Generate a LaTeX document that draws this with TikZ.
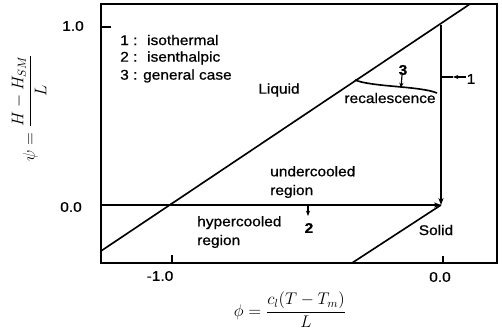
\documentclass[tikz,border=0pt]{standalone}
\usepackage{fontspec}
\setmainfont[FakeStretch=1.1,FakeBold=0.8]{Liberation Sans}
\usetikzlibrary{arrows.meta}
\begin{document}
\begin{tikzpicture}[x=0.03cm,y=-0.03cm,
  lbl/.style={font=\fontsize{12}{14}\selectfont, inner sep=0pt},
  mlbl/.style={font=\fontsize{14}{16}\selectfont, inner sep=0pt},
  frame/.style={line width=1.1pt},
  curve/.style={line width=1.4pt},
  tip/.style={-{Stealth[length=6pt,width=4.5pt]}},
  smalltip/.style={-{Stealth[length=4.5pt,width=3.5pt]}},
  ]
\useasboundingbox (0,0) rectangle (502,335);
% frame
\draw[frame] (101,4) rectangle (497,263);
% ticks
\coordinate (ty1a) at (101,27); \coordinate (ty1b) at (111,27);
\draw[frame] (ty1a) -- (ty1b);
\coordinate (tx1a) at (172,263); \coordinate (tx1b) at (172,255);
\draw[frame] (tx1a) -- (tx1b);
\coordinate (tx0a) at (443,263); \coordinate (tx0b) at (443,256);
\draw[frame] (tx0a) -- (tx0b);
% tick labels
\node[lbl] (y10) at (73,26) {1.0};
\node[lbl] (y00) at (71,207) {0.0};
\node[lbl] (xm1) at (160,276) {-1.0};
\node[lbl] (x00) at (440,277) {0.0};
% axis labels
\node[mlbl, rotate=90] (ylab) at (29,108) {$\displaystyle \psi = \frac{H - H_{SM}}{L}$};
\node[mlbl] (xlab) at (290,310) {$\displaystyle \phi = \frac{c_l(T - T_m)}{L}$};
% key points
\coordinate (L1) at (101,251);
\coordinate (L2) at (470,4);
\coordinate (O) at (441,205);
\coordinate (H0) at (101,205);
\coordinate (V0) at (441,25);
\coordinate (S1) at (352,263);
% liquidus and solidus
\draw[curve] (L1) -- (L2);
\draw[curve] (O) -- (S1);
% path 2 (isenthalpic) and path 1 (isothermal)
\draw[curve, tip] (H0) -- (O);
\draw[curve, tip] (V0) -- (O);
% path 3 (general case)
\coordinate (C0) at (355,80);
\coordinate (C1) at (437,93);
\draw[curve] (C0) .. controls (372,87) and (420,86) .. (C1);
% labels of paths
\node[lbl, font=\fontsize{12}{14}\selectfont\bfseries] (n3) at (403,70) {3};
\coordinate (a3) at (401,88);
\draw[line width=1pt, smalltip] (n3.south) ++(-1,0) -- (a3);
\node[lbl] (n1) at (471,79) {1};
\coordinate (m1) at (453,77);
\coordinate (v1) at (441,77);
\draw[line width=1pt, smalltip] (n1.west |- m1) -- (m1);
\draw[line width=1pt] (m1) -- (v1);
\coordinate (h2) at (308,205);
\coordinate (a2) at (308,216);
\draw[line width=1pt, smalltip] (h2) -- (a2);
\node[lbl, font=\fontsize{12}{14}\selectfont\bfseries] (n2) at (309,228) {2};
% region labels
\node[lbl] (liq) at (279,90) {Liquid};
\node[lbl] (rec) at (390,98) {recalescence};
\node[lbl, anchor=west, align=left] (under) at (270,182) {undercooled\\[2pt]region};
\node[lbl, anchor=west, align=left] (hyper) at (197,232) {hypercooled\\[2pt]region};
\node[lbl] (sol) at (436,230) {Solid};
% legend
\node[lbl, anchor=west] (k1) at (120,40) {\makebox[23pt][l]{1 :}isothermal};
\node[lbl, anchor=west] (k2) at (120,58) {\makebox[23pt][l]{2 :}isenthalpic};
\node[lbl, anchor=west] (k3) at (120,76) {3 : general case};
\end{tikzpicture}
\end{document}
